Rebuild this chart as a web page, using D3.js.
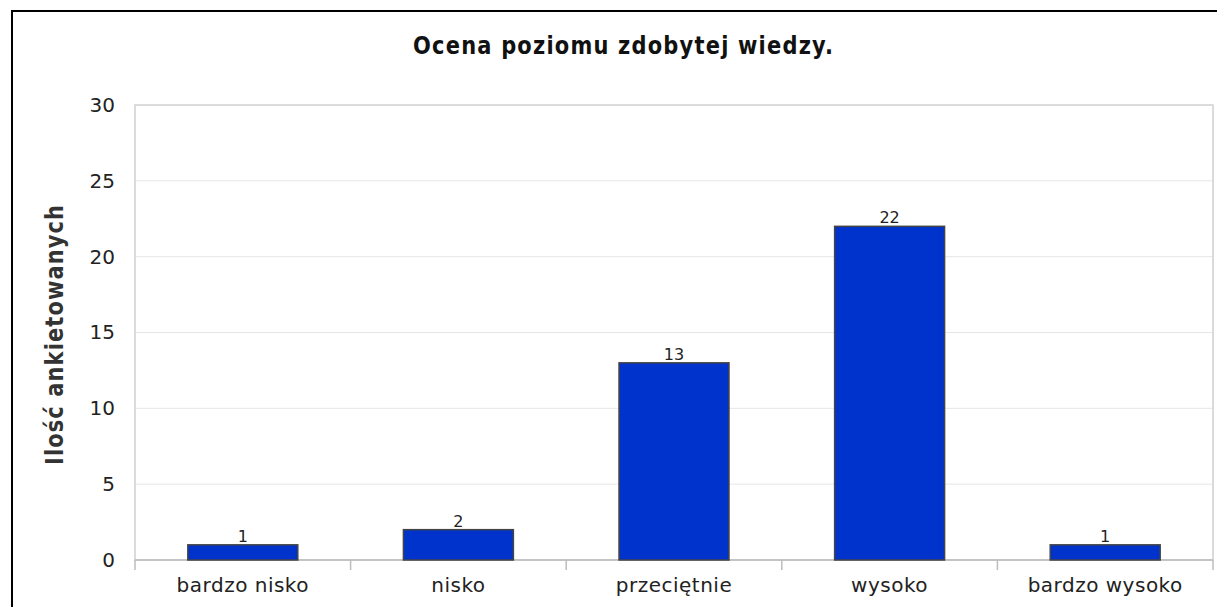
<!DOCTYPE html>
<html>
<head>
<meta charset="utf-8">
<script src="https://cdn.jsdelivr.net/npm/d3@7"></script>
<style>
  body { margin: 0; background: #fff; }
  text { font-family: "DejaVu Sans", Verdana, sans-serif; }
</style>
</head>
<body>
<div id="chart"></div>
<script>
// data
const categories = ["bardzo nisko", "nisko", "przeciętnie", "wysoko", "bardzo wysoko"];
const counts = [1, 2, 13, 22, 1];
const yTicks = [0, 5, 10, 15, 20, 25, 30];
const title = "Ocena poziomu zdobytej wiedzy.";
const yLabel = "Ilość ankietowanych";

const width = 1217, height = 607;
const plot = {left: 135, top: 105, right: 1213, bottom: 560};

const svg = d3.select("#chart").append("svg")
  .attr("width", width)
  .attr("height", height);

// outer frame (cut off at the right and bottom like the image)
svg.append("rect")
  .attr("x", 12).attr("y", 11)
  .attr("width", width + 20).attr("height", height + 20)
  .attr("fill", "#fff")
  .attr("stroke", "#000")
  .attr("stroke-width", 2);

const x = d3.scaleBand()
  .domain(categories)
  .range([plot.left, plot.right])
  .paddingInner(0.49)
  .paddingOuter(0.245);

const y = d3.scaleLinear()
  .domain([0, 30])
  .range([plot.bottom, plot.top]);

// grid lines
svg.append("g")
  .selectAll("line")
  .data(yTicks.filter(d => d > 0 && d < 30))
  .enter()
  .append("line")
  .attr("x1", plot.left).attr("x2", plot.right)
  .attr("y1", d => y(d)).attr("y2", d => y(d))
  .attr("stroke", "#e6e6e6")
  .attr("stroke-width", 1);

// plot border
svg.append("rect")
  .attr("x", plot.left).attr("y", plot.top)
  .attr("width", plot.right - plot.left)
  .attr("height", plot.bottom - plot.top)
  .attr("fill", "none")
  .attr("stroke", "#cfcfcf")
  .attr("stroke-width", 1.5);

// y axis labels
const yAxis = d3.axisLeft(y).tickValues(yTicks).tickSize(0).tickPadding(20);
const gy = svg.append("g")
  .attr("transform", `translate(${plot.left},0)`)
  .call(yAxis);
gy.select(".domain").remove();
gy.selectAll("text")
  .attr("font-size", 20)
  .attr("fill", "#222");

// x axis: ticks sit at the boundaries between categories
const step = x.step();
const boundaries = d3.range(categories.length + 1).map(i => plot.left + i * step);
svg.append("g")
  .selectAll("line")
  .data(boundaries)
  .enter()
  .append("line")
  .attr("x1", d => d).attr("x2", d => d)
  .attr("y1", plot.bottom).attr("y2", plot.bottom + 10)
  .attr("stroke", "#bdbdbd")
  .attr("stroke-width", 1.5);

svg.append("line")
  .attr("x1", plot.left).attr("x2", plot.right)
  .attr("y1", plot.bottom).attr("y2", plot.bottom)
  .attr("stroke", "#bdbdbd")
  .attr("stroke-width", 1.5);

svg.append("g")
  .selectAll("text")
  .data(categories)
  .enter()
  .append("text")
  .attr("x", d => x(d) + x.bandwidth() / 2)
  .attr("y", 592)
  .attr("text-anchor", "middle")
  .attr("font-size", 20)
  .attr("fill", "#222")
  .style("letter-spacing", "0.5px")
  .text(d => d);

// bars
svg.append("g")
  .selectAll("rect")
  .data(counts)
  .enter()
  .append("rect")
  .attr("x", (d, i) => x(categories[i]))
  .attr("y", d => y(d))
  .attr("width", x.bandwidth())
  .attr("height", d => plot.bottom - y(d))
  .attr("fill", "#0033cc")
  .attr("stroke", "#444")
  .attr("stroke-width", 1.5);

// value labels
svg.append("g")
  .selectAll("text")
  .data(counts)
  .enter()
  .append("text")
  .attr("x", (d, i) => x(categories[i]) + x.bandwidth() / 2)
  .attr("y", d => y(d) - 3)
  .attr("text-anchor", "middle")
  .attr("font-size", 16)
  .attr("fill", "#222")
  .text(d => d);

// title (the original is a bit taller than wide, hence the scale)
svg.append("text")
  .attr("transform", "translate(623,54) scale(1,1.15)")
  .attr("text-anchor", "middle")
  .attr("font-size", 21)
  .attr("font-weight", "bold")
  .attr("fill", "#111")
  .attr("textLength", 420)
  .attr("lengthAdjust", "spacing")
  .text(title);

// y axis title
svg.append("text")
  .attr("transform", "translate(63,335) rotate(-90) scale(1,1.15)")
  .attr("text-anchor", "middle")
  .attr("font-size", 21)
  .attr("font-weight", "bold")
  .attr("fill", "#333")
  .attr("textLength", 260)
  .attr("lengthAdjust", "spacing")
  .text(yLabel);
</script>
</body>
</html>
